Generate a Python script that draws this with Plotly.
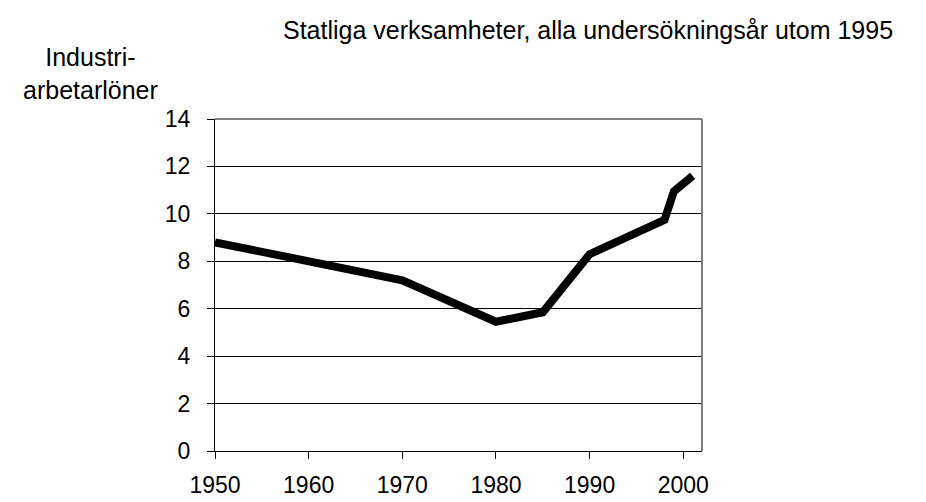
"""Industriarbetarlöner, statliga verksamheter"""

import plotly.graph_objects as go

# survey years and values
years = [1950, 1970, 1980, 1985, 1990, 1998, 1999, 2001]
values = [8.8, 7.2, 5.45, 5.85, 8.3, 9.75, 10.95, 11.6]

x_ticks = [1950, 1960, 1970, 1980, 1990, 2000]
y_ticks = [0, 2, 4, 6, 8, 10, 12, 14]

title_text = "Statliga verksamheter, alla undersökningsår utom 1995"
y_label = "Industri-<br>arbetarlöner"

FONT = "Arial, Liberation Sans, sans-serif"

fig = go.Figure(
    go.Scatter(
        x=years,
        y=values,
        mode="lines",
        line=dict(color="black", width=8),
        hoverinfo="skip",
    )
)

fig.update_layout(
    width=926,
    height=502,
    margin=dict(l=207, r=232, t=111, b=48),
    paper_bgcolor="white",
    plot_bgcolor="white",
    showlegend=False,
    font=dict(family=FONT, size=23, color="black"),
    title=dict(
        text=title_text,
        x=275 / 926,
        xanchor="left",
        xref="container",
        y=1 - 22 / 502,
        yanchor="middle",
        yref="container",
        font=dict(family=FONT, size=25, color="black"),
    ),
)

fig.update_xaxes(
    range=[1950, 2002],
    tickvals=x_ticks,
    ticks="outside",
    ticklen=7,
    tickcolor="black",
    showline=True,
    linecolor="black",
    linewidth=1,
    showgrid=False,
    zeroline=False,
    ticklabelstandoff=6,
)
fig.update_yaxes(
    range=[0, 14],
    tickvals=y_ticks,
    ticks="outside",
    ticklen=7,
    tickcolor="black",
    showline=True,
    linecolor="black",
    linewidth=1,
    showgrid=True,
    gridcolor="black",
    gridwidth=1,
    zeroline=False,
    ticklabelstandoff=12,
)

# grey frame on top and right like the original
fig.add_shape(type="line", xref="x domain", yref="y domain", x0=0, x1=1, y0=1, y1=1,
              line=dict(color="#808080", width=2), layer="above")
fig.add_shape(type="line", xref="x domain", yref="y domain", x0=1, x1=1, y0=0, y1=1,
              line=dict(color="#808080", width=2), layer="above")

fig.add_annotation(
    text=y_label,
    xref="paper",
    yref="paper",
    x=(82 - 207) / 487,
    y=1 + (111 - 64) / 343,
    xanchor="center",
    yanchor="middle",
    showarrow=False,
    align="center",
    font=dict(family=FONT, size=25, color="black"),
)

fig.write_html("out.html")
